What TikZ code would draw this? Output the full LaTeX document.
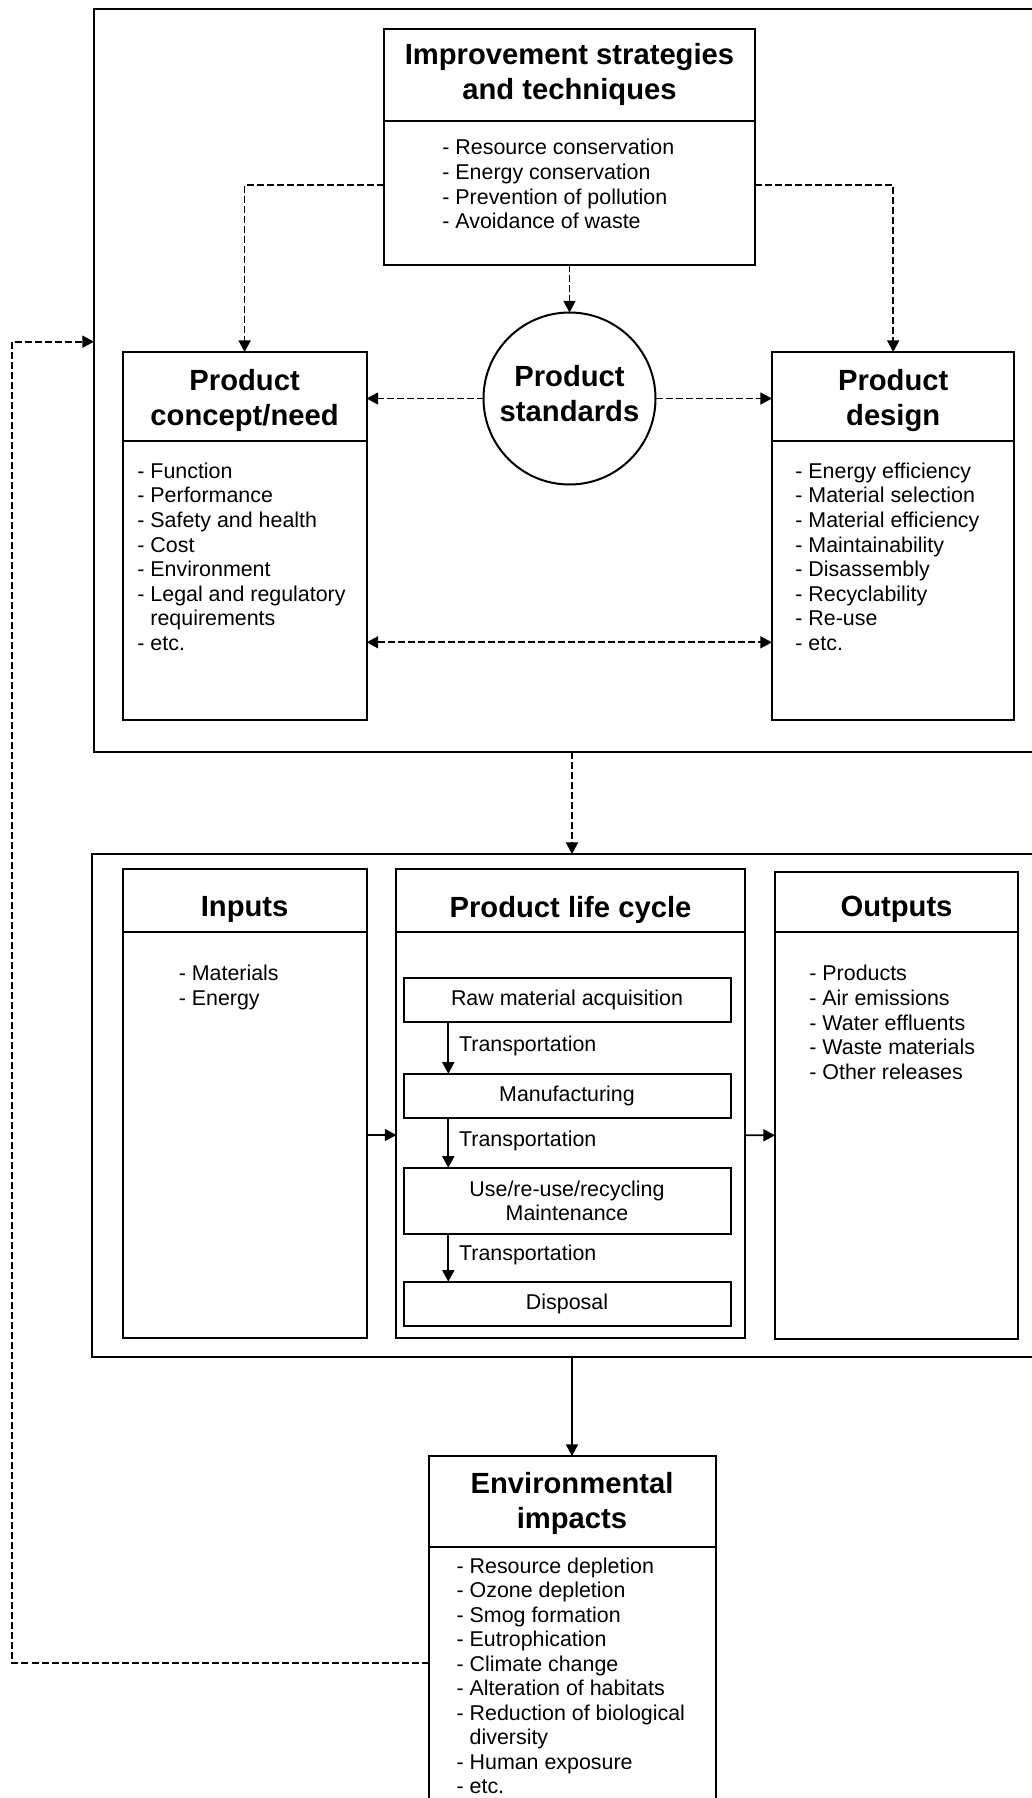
\documentclass[tikz,border=0pt]{standalone}
\usepackage{fontspec}
\setmainfont{Liberation Sans}
\usetikzlibrary{positioning,arrows.meta}

\begin{document}
\begin{tikzpicture}[x=0.5pt, y=-0.5pt, >={Triangle[length=5.8pt,width=6pt]},
    box/.style={draw, line width=1pt, inner sep=0pt, outer sep=0pt},
    head/.style={box},
    title/.style={align=center, inner sep=0pt, font=\fontsize{14.6}{17.5}\selectfont\bfseries},
    body/.style={box, below=0pt of #1},
    stage/.style={box, align=center, minimum width=163.5pt, font=\fontsize{10.7}{12.3}\selectfont},
    item/.style={anchor=base west, inner sep=0pt, font=\fontsize{10.7}{12.3}\selectfont},
    link/.style={line width=0.85pt, dash pattern=on 3.5pt off 1.5pt, ->},
    flow/.style={line width=0.85pt, ->},
    trans/.style={right, pos=0.45, xshift=5pt, inner sep=0pt, font=\fontsize{10.7}{12.3}\selectfont}]
        % Define the distance between list lines
        \newcommand\ListSkip{24.6}

        % Page size, the outer frames run past the edge
        \useasboundingbox (0,0) rectangle (1032,1798);
        \clip (0,0) rectangle (1032,1798);

        % Draw the two outer frames
        \node[box, minimum width=478pt, minimum height=371.5pt] (planbox) at (572,380.5) {};
        \node[box, minimum width=480pt, minimum height=251.25pt] (cyclebox) at (572,1105.25) {};

        % Improvement strategies
        \node[head, minimum width=185.5pt, minimum height=46pt] (imphead) at (569.5,75) {};
        \node[title, yshift=0.5pt] (imptitle) at (imphead) {Improvement strategies\\and techniques};
        \node[body=imphead, minimum width=185.5pt, minimum height=72pt] (impbody) {};
        \foreach \t [count=\i from 0] in {Resource conservation, Energy conservation, Prevention of pollution, Avoidance of waste} {
          \pgfmathsetmacro\Shift{\i*\ListSkip}
          \node[item] (imp-\i) at (442,155+\Shift) {- \t};
        }

        % Product standards
        \node[box, circle, minimum size=86pt] (std) at (569.5,398.5) {};
        \node[title, yshift=2.5pt] (stdtitle) at (std) {Product\\standards};

        % Product concept/need
        \node[head, minimum width=122pt, minimum height=44.5pt] (conhead) at (244.6,396.5) {};
        \node[title, yshift=-2pt] (contitle) at (conhead) {Product\\concept/need};
        \node[body=conhead, minimum width=122pt, minimum height=139.5pt] (conbody) {};
        \foreach \t [count=\i from 0] in {- Function, - Performance, - Safety and health, - Cost, - Environment, - Legal and regulatory, \hphantom{- }requirements, - etc.} {
          \pgfmathsetmacro\Shift{\i*\ListSkip}
          \node[item] (con-\i) at (137,478.2+\Shift) {\t};
        }

        % Product design
        \node[head, minimum width=121.25pt, minimum height=44.5pt] (deshead) at (893.2,396.5) {};
        \node[title, yshift=-2pt] (destitle) at (deshead) {Product\\design};
        \node[body=deshead, minimum width=121.25pt, minimum height=139.5pt] (desbody) {};
        \foreach \t [count=\i from 0] in {Energy efficiency, Material selection, Material efficiency, Maintainability, Disassembly, Recyclability, Re-use, etc.} {
          \pgfmathsetmacro\Shift{\i*\ListSkip}
          \node[item] (des-\i) at (795,478.2+\Shift) {- \t};
        }

        % Inputs
        \node[head, minimum width=122pt, minimum height=31.5pt] (inhead) at (244.6,900.5) {};
        \node[title, yshift=-4.6pt] (intitle) at (inhead) {Inputs};
        \node[body=inhead, minimum width=122pt, minimum height=203pt] (inbody) {};
        \foreach \t [count=\i from 0] in {Materials, Energy} {
          \pgfmathsetmacro\Shift{\i*\ListSkip}
          \node[item] (in-\i) at (178.4,980.8+\Shift) {- \t};
        }

        % Product life cycle
        \node[head, minimum width=174.15pt, minimum height=31.5pt] (plchead) at (570.5,900.5) {};
        \node[title, yshift=-4.6pt] (plctitle) at (plchead) {Product life cycle};
        \node[body=plchead, minimum width=174.15pt, minimum height=203pt] (plcbody) {};
        \node[stage, minimum height=22.3pt] (raw) at (567,1000) {Raw material acquisition};
        \node[stage, minimum height=22.2pt] (manuf) at (567,1096) {Manufacturing};
        \node[stage, minimum height=33pt] (use) at (567,1200.7) {Use/re-use/recycling\\Maintenance};
        \node[stage, minimum height=22pt] (disp) at (567,1303.7) {Disposal};

        % Outputs
        \node[head, minimum width=121.5pt, minimum height=30pt] (outhead) at (896.5,902) {};
        \node[title, yshift=-3.85pt] (outtitle) at (outhead) {Outputs};
        \node[body=outhead, minimum width=121.5pt, minimum height=203.5pt] (outbody) {};
        \foreach \t [count=\i from 0] in {Products, Air emissions, Water effluents, Waste materials, Other releases} {
          \pgfmathsetmacro\Shift{\i*\ListSkip}
          \node[item] (out-\i) at (809,980.8+\Shift) {- \t};
        }

        % Environmental impacts
        \node[head, minimum width=143.5pt, minimum height=45.35pt] (envhead) at (572,1501.35) {};
        \node[title, yshift=-0.8pt] (envtitle) at (envhead) {Environmental\\impacts};
        \node[body=envhead, minimum width=143.5pt, minimum height=141.65pt] (envbody) {};
        \foreach \t [count=\i from 0] in {- Resource depletion, - Ozone depletion, - Smog formation, - Eutrophication, - Climate change, - Alteration of habitats, - Reduction of biological, \hphantom{- }diversity, - Human exposure, - etc.} {
          \pgfmathsetmacro\Shift{\i*24.48}
          \node[item] (env-\i) at (456.2,1573.2+\Shift) {\t};
        }

        % Dashed links in the upper frame
        \coordinate (bothy) at (0,642.3);
        \draw[link] ([yshift=4pt]impbody.west) -| (conhead.north);
        \draw[link] ([yshift=4pt]impbody.east) -| (deshead.north);
        \draw[link] (impbody.south) -- (std.north);
        \draw[link] (std.west) -- (std.west -| conhead.east);
        \draw[link] (std.east) -- (std.east -| deshead.west);
        \draw[link, <->] (conbody.east |- bothy) -- (desbody.west |- bothy);
        \draw[link] (planbox.south) -- (cyclebox.north);

        % Flow through the life cycle
        \draw[flow] (inbody) -- (plcbody);
        \draw[flow] (plcbody) -- (outbody);
        \draw[flow] ([xshift=22.4pt]raw.south west) -- node[trans] {Transportation} ([xshift=22.4pt]manuf.north west);
        \draw[flow] ([xshift=22.4pt]manuf.south west) -- node[trans] {Transportation} ([xshift=22.4pt]use.north west);
        \draw[flow] ([xshift=22.4pt]use.south west) -- node[trans] {Transportation} ([xshift=22.4pt]disp.north west);
        \draw[flow] (cyclebox.south) -- (envhead.north);

        % Feedback from the impacts
        \coordinate (fbbot) at (12,1662.7);
        \coordinate (fbtop) at (12,341.7);
        \draw[link] (envbody.west |- fbbot) -- (fbbot) -- (fbtop) -- (fbtop -| planbox.west);
      \end{tikzpicture}
\end{document}
